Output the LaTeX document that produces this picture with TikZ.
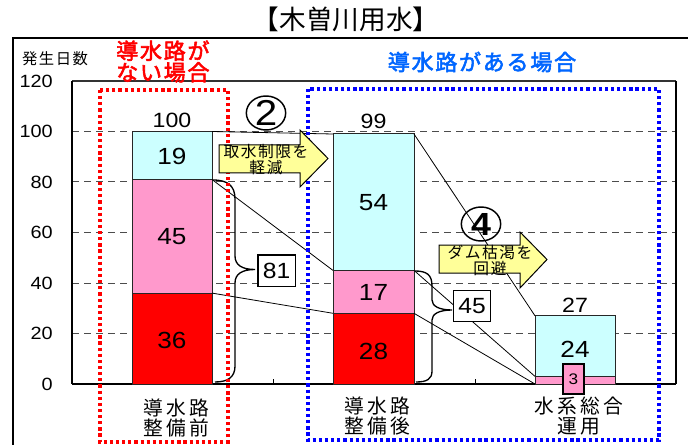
\documentclass[tikz,border=0pt]{standalone}
\usepackage{fontspec}
\usetikzlibrary{shapes.geometric}
\setmainfont{Noto Sans CJK JP}
\newfontfamily\jp{Noto Sans CJK JP}
\newfontfamily\jpsp[LetterSpace=10]{Noto Sans CJK JP}
\newfontfamily\jpcat[LetterSpace=16]{Noto Sans CJK JP}
\newfontfamily\jpbold[LetterSpace=8,FakeBold=2.5]{Noto Sans CJK JP}
\newfontfamily\numf[FakeStretch=1.12]{Liberation Sans}
\definecolor{barcyan}{HTML}{CCFFFF}
\definecolor{barpink}{HTML}{FF99CC}
\definecolor{barred}{HTML}{FF0000}
\definecolor{arrowyel}{HTML}{FFFF99}
\definecolor{headblue}{HTML}{0066FF}
\definecolor{dotblue}{HTML}{0000FF}
\definecolor{dotred}{HTML}{FF0000}
\begin{document}
\begin{tikzpicture}[x=0.75pt,y=-0.75pt,
  barbox/.style={draw=black!85, line width=0.75pt},
  gridl/.style={draw=black!70, dash pattern=on 5.5pt off 3.5pt, line width=0.75pt},
  conn/.style={draw=black, line width=0.6pt},
  bracel/.style={draw=black, line width=1pt},
  numlab/.style={font=\numf\fontsize{17.5}{20}\selectfont, inner sep=0pt},
  toplab/.style={font=\numf\fontsize{15.5}{18}\selectfont, inner sep=0pt},
  axlab/.style={font=\numf\fontsize{13.3}{16}\selectfont, anchor=east, inner sep=0pt},
  valbox/.style={draw=black, fill=white, line width=1pt, font=\numf\fontsize{16.5}{18}\selectfont,
    minimum width=28pt, minimum height=23.5pt, inner sep=0pt},
  catlab/.style={font=\jpcat\fontsize{14.8}{15.5}\selectfont, align=center, inner sep=0pt},
  arrtext/.style={font=\jpsp\fontsize{11.8}{12}\selectfont, align=center, inner sep=0pt},
  blockarrow/.style={draw=black, fill=arrowyel, line width=0.75pt, line join=miter},
  circnum/.style={ellipse, draw=black, line width=1.1pt, minimum width=29.5pt, minimum height=25.5pt, inner sep=0pt},
  dotrect/.style={line width=2.6pt, dash pattern=on 2.4pt off 2.2pt}
]
\useasboundingbox (0,0) rectangle (688,445);
\fill[white] (0,0) rectangle (688,445);

% outer frame and title
\draw[line width=1.2pt] (688,38) -- (13,38) -- (13,445);
\node[font=\jp\fontsize{20}{22}\selectfont, inner sep=0pt] (title) at (346,19) {【木曽川用水】};

% axis caption and labels
\node[font=\jpsp\fontsize{11.5}{12}\selectfont, inner sep=0pt] (ycap) at (55,59) {発生日数};
\node[axlab] (y120) at (53,81) {120};
\node[axlab] (y100) at (53,131.5) {100};
\node[axlab] (y80) at (53,182) {80};
\node[axlab] (y60) at (53,232.5) {60};
\node[axlab] (y40) at (53,283) {40};
\node[axlab] (y20) at (53,333.5) {20};
\node[axlab] (y0) at (53,384) {0};

% grid lines
\foreach \yy in {131.5,182,232.5,283,333.5} {
  \draw[gridl] (72,\yy) -- (676,\yy);
}
% plot frame
\draw[draw=black!80, line width=1.3pt] (72,81) -- (676,81);
\draw[line width=1.2pt] (72,81) -- (72,384);
\draw[line width=1pt] (676,81) -- (676,384);
\draw[line width=1.5pt] (72,384) -- (676,384);
\draw[line width=0.75pt] (273,384) -- (273,379);
\draw[line width=0.75pt] (475,384) -- (475,379);

% bars
\draw[barbox, fill=barred]  (132,293.1) rectangle (212,384);
\draw[barbox, fill=barpink] (132,179.5) rectangle (212,293.1);
\draw[barbox, fill=barcyan] (132,131.5) rectangle (212,179.5);
\draw[barbox, fill=barred]  (333,313.3) rectangle (414,384);
\draw[barbox, fill=barpink] (333,270.4) rectangle (414,313.3);
\draw[barbox, fill=barcyan] (333,134) rectangle (414,270.4);
\draw[barbox, fill=barpink] (535,376.4) rectangle (615,384);
\draw[barbox, fill=barcyan] (535,315.8) rectangle (615,376.4);

% corner coordinates
\coordinate (b1top) at (212,131.5);
\coordinate (b1pk) at (212,179.5);
\coordinate (b1rd) at (212,293.1);
\coordinate (b2topL) at (333,134);
\coordinate (b2pkL) at (333,270.4);
\coordinate (b2rdL) at (333,313.3);
\coordinate (b2topR) at (414,134);
\coordinate (b2pkR) at (414,270.4);
\coordinate (b2rdR) at (414,313.3);
\coordinate (b3topL) at (535,315.8);
\coordinate (b3pkL) at (535,376.4);
\coordinate (b3bot) at (535,384);

% connectors
\draw[conn] (b1top) -- (b2topL);
\draw[conn] (b1pk) -- (b2pkL);
\draw[conn] (b1rd) -- (b2rdL);
\draw[conn] (b2topR) -- (b3topL);
\draw[conn] (b2pkR) -- (b3pkL);
\draw[conn] (b2rdR) -- (b3bot);

% bar labels
\node[toplab] (l100) at (172,120) {100};
\node[toplab] (l99) at (373.5,121) {99};
\node[toplab] (l27) at (575,305) {27};
\node[numlab] (l19) at (172,156) {19};
\node[numlab] (l45) at (172,237) {45};
\node[numlab] (l36) at (172,340) {36};
\node[numlab] (l54) at (373.5,203) {54};
\node[numlab] (l17) at (373.5,292) {17};
\node[numlab] (l28) at (373.5,351) {28};
\node[numlab] (l24) at (575,349) {24};
\node[draw=black, fill=barpink, line width=0.9pt, font=\numf\fontsize{11.5}{13}\selectfont,
  minimum width=15.75pt, minimum height=22.5pt, inner sep=0pt] (l3) at (573.5,379) {3};

% braces
\draw[bracel] (213,180) .. controls (228,180) and (235,186) .. (235,199) -- (235,256)
  .. controls (235,265) and (242,269.5) .. (255,269.5)
  .. controls (242,269.5) and (235,274) .. (235,283) -- (235,366)
  .. controls (235,377) and (228,382) .. (215,382);
\draw[bracel] (415,271) .. controls (427,271) and (432,275) .. (432,286) -- (432,300)
  .. controls (432,306) and (439,310) .. (452,310)
  .. controls (439,310) and (432,314) .. (432,320) -- (432,371)
  .. controls (432,379) and (427,382) .. (416,382);
\node[valbox] (v81) at (276.5,270.5) {81};
\node[valbox] (v45) at (472,306) {45};

% dotted group frames
\draw[dotrect, draw=dotred] (100,90) rectangle (228,442);
\draw[dotrect, draw=dotblue] (308,89) rectangle (659,440);

% headings
\node[font=\jpbold\fontsize{16.5}{14.25}\selectfont, text=dotred, align=left, anchor=west, inner sep=0pt] (hred) at (116,61.5) {導水路が\\ない場合};
\node[font=\jpbold\fontsize{16.5}{18}\selectfont, text=headblue, inner sep=0pt] (hblue) at (482,62) {導水路がある場合};

% block arrows
\draw[blockarrow] (219,145) -- (300,145) -- (300,130) -- (328,158.5) -- (300,187) -- (300,173) -- (219,173) -- cycle;
\node[arrtext] (a1) at (266,159.5) {取水制限を\\軽減};
\draw[blockarrow] (439,245) -- (520,245) -- (520,232) -- (547,259.5) -- (520,288) -- (520,273) -- (439,273) -- cycle;
\node[arrtext] (a2) at (490,260) {ダム枯渇を\\回避};

% circled numbers
\node[circnum] (c2) at (266,113) {};
\node[font=\numf\fontsize{27}{28}\selectfont, inner sep=0pt] at (c2) {2};
\node[circnum] (c4) at (481,224) {};
\node[font=\numf\bfseries\fontsize{24}{26}\selectfont, inner sep=0pt] at (c4) {4};

% category labels
\node[catlab] (cat1) at (176,418) {導水路\\整備前};
\node[catlab] (cat2) at (377,416) {導水路\\整備後};
\node[catlab] (cat3) at (579,416) {水系総合\\運用};
\end{tikzpicture}
\end{document}
